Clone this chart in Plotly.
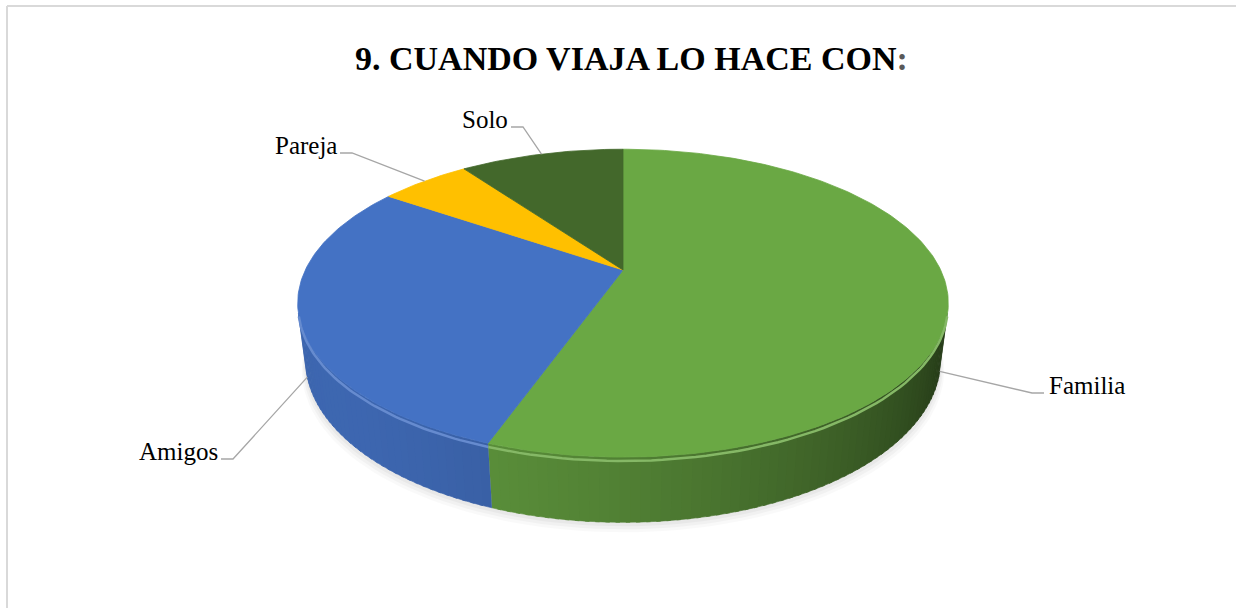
import numpy as np
import plotly.graph_objects as go

# Survey answers (share of respondents, %)
labels = ["Familia", "Amigos", "Pareja", "Solo"]
values = [55.5, 29.0, 5.5, 10.0]
top_colors = ["#6AA844", "#4472C4", "#FFC000", "#43682B"]
title_text = "9. CUANDO VIAJA LO HACE CON"

# ---- 3D disc projection settings ----
W, H = 1236, 608
CX, CY = 623, 270          # screen position of the disc centre
FOCAL = 1282.0
XSTRETCH = 1.016
TILT = np.radians(28)
DIST = 4.1
THICK = 0.207
S, C = np.sin(TILT), np.cos(TILT)
SERIF = "Liberation Serif"


def project(alpha_deg, z=0.0, r=1.0):
    a = np.radians(np.asarray(alpha_deg, dtype=float))
    X = r * np.sin(a)
    Y = r * np.cos(a)
    depth = Y * C + DIST - z * S
    sx = FOCAL * X / depth * XSTRETCH
    sy = FOCAL * (Y * S + z * C) / depth
    return CX + sx, CY - sy


def hex_rgb(h):
    h = h.lstrip("#")
    return [int(h[i:i + 2], 16) for i in (0, 2, 4)]


def shade(h, f):
    r, g, b = hex_rgb(h)
    f = max(0.0, f)
    cl = lambda v: int(max(0, min(255, round(v))))
    if f <= 1:
        return "rgb(%d,%d,%d)" % (cl(r * f), cl(g * f), cl(b * f))
    t = f - 1
    return "rgb(%d,%d,%d)" % (cl(r + (255 - r) * t), cl(g + (255 - g) * t), cl(b + (255 - b) * t))


# slice angles, clockwise from 12 o'clock
total = float(sum(values))
edges = np.concatenate([[0.0], np.cumsum(values) / total * 360.0])

# wall is front-facing where cos(alpha) < -1/(DIST*cos(tilt))
lim = np.degrees(np.arccos(-1.0 / (DIST * C)))
vis_lo, vis_hi = lim, 360 - lim

fig = go.Figure()

# soft shadow under the disc
base_a = np.linspace(0, 360, 181)
for k, (dy, op) in enumerate([(10, 0.025), (7, 0.03), (4, 0.035)]):
    bx, by = project(base_a, z=-THICK)
    mx = bx.mean()
    sc = 1.0 + 0.004 * (3 - k)
    fig.add_trace(go.Scatter(x=(bx - mx) * sc + mx, y=by + dy, mode="lines", fill="toself",
                             fillcolor="rgba(0,0,0,%.3f)" % op, line=dict(width=0),
                             hoverinfo="skip", showlegend=False))

# outer walls, shaded per small segment (segments overlap slightly to hide seams)
light = np.array([-0.8, -0.6])
for i, lab in enumerate(labels):
    a0, a1 = max(edges[i], vis_lo), min(edges[i + 1], vis_hi)
    if a1 <= a0:
        continue
    n = max(2, int(np.ceil((a1 - a0) / 1.5)))
    cuts = np.linspace(a0, a1, n + 1)
    for s0, s1 in zip(cuts[:-1], cuts[1:]):
        am = np.radians((s0 + s1) / 2)
        nrm = np.array([np.sin(am), np.cos(am)])
        f = 0.55 + 0.35 * float(nrm @ light)
        col = shade(top_colors[i], f)
        arc = np.linspace(s0, min(s1 + 0.6, a1), 4)
        tx, ty = project(arc, 0.0)
        bx, by = project(arc[::-1], -THICK)
        fig.add_trace(go.Scatter(x=np.concatenate([tx, bx]), y=np.concatenate([ty, by]),
                                 mode="lines", fill="toself", fillcolor=col,
                                 line=dict(color=col, width=0.6),
                                 hoverinfo="skip", showlegend=False))

# top faces
for i, lab in enumerate(labels):
    arc = np.linspace(edges[i], edges[i + 1], max(3, int((edges[i + 1] - edges[i]) / 1.0)))
    ax_, ay_ = project(arc, 0.0)
    xs = np.concatenate([[CX], ax_, [CX]])
    ys = np.concatenate([[CY], ay_, [CY]])
    fig.add_trace(go.Scatter(x=xs, y=ys, mode="lines", fill="toself",
                             fillcolor=top_colors[i], line=dict(color=top_colors[i], width=0.8),
                             name=lab, text=["%s: %.1f%%" % (lab, values[i] / total * 100)] * len(xs),
                             hoverinfo="text", showlegend=False))

# bevel highlight along the front rim
for i, lab in enumerate(labels):
    a0, a1 = max(edges[i], vis_lo), min(edges[i + 1], vis_hi)
    if a1 <= a0:
        continue
    arc = np.linspace(a0, a1, 60)
    hx, hy = project(arc, -0.012)
    fig.add_trace(go.Scatter(x=hx, y=hy, mode="lines",
                             line=dict(color=shade(top_colors[i], 1.18), width=2.5),
                             hoverinfo="skip", showlegend=False))

# leader lines and category labels
label_place = {
    "Familia": dict(elbow=(1032, 393), end=(1044, 393), side="left"),
    "Amigos": dict(elbow=(233, 459), end=(221, 459), side="right"),
    "Pareja": dict(elbow=(352, 153), end=(340, 153), side="right"),
    "Solo": dict(elbow=(523, 127), end=(511, 127), side="right"),
}
annotations = []
for i, lab in enumerate(labels):
    mid = (edges[i] + edges[i + 1]) / 2
    if np.cos(np.radians(mid)) < 0 or vis_lo - 15 < (mid % 360) < vis_hi + 15:
        am = min(max(mid, vis_lo), vis_hi)
        px, py = project(am, -THICK)
    else:
        px, py = project(mid, 0.0)
    p = label_place[lab]
    fig.add_trace(go.Scatter(x=[float(px), p["elbow"][0], p["end"][0]],
                             y=[float(py), p["elbow"][1], p["end"][1]],
                             mode="lines", line=dict(color="#A6A6A6", width=1.3),
                             hoverinfo="skip", showlegend=False))
    if p["side"] == "left":
        annotations.append(dict(x=p["end"][0] + 3, y=p["end"][1] - 8, text=lab, xanchor="left",
                                yanchor="middle", showarrow=False,
                                font=dict(family=SERIF, size=25, color="#000000")))
    else:
        annotations.append(dict(x=p["end"][0] - 1, y=p["end"][1] - 8, text=lab, xanchor="right",
                                yanchor="middle", showarrow=False,
                                font=dict(family=SERIF, size=25, color="#000000")))

annotations.append(dict(x=631, y=58, xanchor="center", yanchor="middle", showarrow=False,
                        text="%s<span style='color:#595959'>:</span>" % title_text,
                        font=dict(family=SERIF, size=34, color="#000000", weight=700)))

fig.update_layout(
    width=W, height=H,
    margin=dict(l=0, r=0, t=0, b=0),
    paper_bgcolor="white", plot_bgcolor="white",
    font=dict(family=SERIF),
    xaxis=dict(range=[0, W], visible=False, fixedrange=True),
    yaxis=dict(range=[H, 0], visible=False, fixedrange=True),
    annotations=annotations,
    shapes=[
        dict(type="line", xref="x", yref="y", x0=7, y0=6, x1=W, y1=6,
             line=dict(color="#D9D9D9", width=2)),
        dict(type="line", xref="x", yref="y", x0=7, y0=6, x1=7, y1=H,
             line=dict(color="#D9D9D9", width=2)),
    ],
    hovermode="closest",
)

fig.write_html("out.html")
